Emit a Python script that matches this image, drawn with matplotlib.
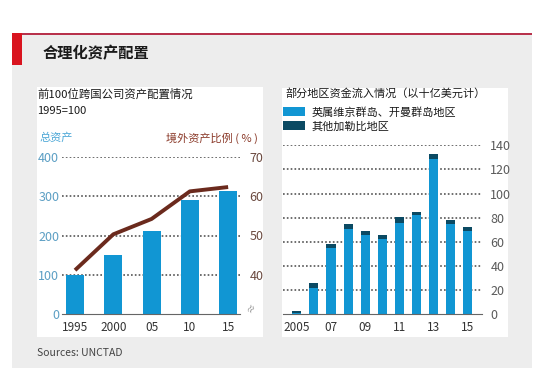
import numpy as np
import matplotlib.pyplot as plt
from matplotlib.patches import Rectangle

plt.rcParams['font.family'] = ['Noto Sans CJK SC', 'DejaVu Sans']

# left chart: top 100 multinationals, 1995 = 100
years_left = ['1995', '2000', '05', '10', '15']
total_assets = [100, 150, 211, 290, 313]
foreign_share = [41.2, 50.3, 54.2, 61.2, 62.3]

# right chart: inflows, $bn
years_right = ['2005', '', '07', '', '09', '', '11', '', '13', '', '15']
bvi_cayman = [1, 22, 55, 70.5, 66, 62, 76, 82, 129, 74.5, 69]
other_caribbean = [2, 4, 3, 4.5, 3, 3.5, 4.5, 3, 3.5, 4, 3]

W, H = 549, 383
BLUE = '#1196d3'
DARK = '#0b4a63'
BROWN = '#6b2a1d'
GREY = '#5a5a5a'


def fx(px):
    return px / W


def fy(py):
    return 1 - py / H


fig = plt.figure(figsize=(W / 100, H / 100), dpi=100)
fig.patch.set_facecolor('white')

# panel backgrounds, drawn in a full-figure axes at the bottom
bg = fig.add_axes([0, 0, 1, 1], zorder=-10)
bg.set_xlim(0, W)
bg.set_ylim(H, 0)
bg.axis('off')
for x0, y0, x1, y1, c in [(12, 33, 532, 368, '#ededed'),
                          (12, 32.5, 532, 34.5, '#b8324c'),
                          (12, 33, 22, 65, '#d9141f'),
                          (37, 87, 263, 337, 'white'),
                          (282, 88, 508, 337, 'white')]:
    bg.add_patch(Rectangle((x0, y0), x1 - x0, y1 - y0, color=c, lw=0))

fig.text(fx(43), fy(53), '合理化资产配置', fontsize=11, fontweight='bold',
         va='center', ha='left', color='#1a1a1a')
fig.text(fx(37), fy(353), 'Sources: UNCTAD', fontsize=7.5, va='center', color='#444444')

# ---- left chart ----
ax1 = fig.add_axes([fx(62), fy(314.3), fx(178), 157.6 / H])
ax1.set_facecolor('none')
x1 = np.arange(len(years_left))
ax1.bar(x1, total_assets, width=0.47, color=BLUE, zorder=2)
ax1.set_xlim(-0.34, 4.31)
ax1.set_ylim(0, 400)
ax1.set_yticks([0, 100, 200, 300, 400])
ax1.set_xticks(x1)
ax1.set_xticklabels(years_left)
for v in [100, 200, 300, 400]:
    ax1.axhline(v, color='#555555', lw=1.2, ls=(0, (1, 1.3)), zorder=1)
for s in ['top', 'left', 'right']:
    ax1.spines[s].set_visible(False)
ax1.spines['bottom'].set_color('#666666')
ax1.spines['bottom'].set_zorder(3)
ax1.tick_params(axis='y', length=0, pad=2, labelsize=9, labelcolor='#5c9fc4')
ax1.tick_params(axis='x', length=0, pad=5, labelsize=8.5, labelcolor='#333333')

ax1b = ax1.twinx()
ax1b.plot(x1, foreign_share, color=BROWN, lw=2.8, solid_capstyle='butt', zorder=3)
ax1b.set_ylim(30, 70)
ax1b.set_yticks([40, 50, 60, 70])
for s in ['top', 'left', 'right', 'bottom']:
    ax1b.spines[s].set_visible(False)
ax1b.tick_params(axis='y', length=0, pad=7, labelsize=9, labelcolor='#6b4a40')
ax1b.text(1.065, 0.04, '≈', transform=ax1b.transAxes, rotation=60, fontsize=7,
          color='#888888', ha='center', va='center')

fig.text(fx(37), fy(94), '前100位跨国公司资产配置情况', fontsize=8.2, va='center', color='#1a1a1a')
fig.text(fx(37), fy(111), '1995=100', fontsize=8, va='center', color='#1a1a1a')
fig.text(fx(39), fy(138), '总资产', fontsize=8, va='center', color='#4aa6d6')
fig.text(fx(258), fy(138), '境外资产比例 ( % )', fontsize=8, va='center', ha='right', color='#8b3a2a')

# ---- right chart ----
ax2 = fig.add_axes([fx(282.7), fy(314.3), fx(199.3), 169 / H])
ax2.set_facecolor('none')
x2 = np.arange(len(years_right))
b1 = ax2.bar(x2, bvi_cayman, width=0.53, color=BLUE, zorder=2,
             label='英属维京群岛、开曼群岛地区')
b2 = ax2.bar(x2, other_caribbean, width=0.53, bottom=bvi_cayman, color=DARK, zorder=2,
             label='其他加勒比地区')
ax2.set_xlim(-0.82, 10.82)
ax2.set_ylim(0, 140)
ax2.set_yticks(np.arange(0, 141, 20))
ax2.set_xticks(x2)
ax2.set_xticklabels(years_right)
for v in range(20, 141, 20):
    ax2.axhline(v, color='#555555', lw=1.2, ls=(0, (1, 1.3)), zorder=1)
ax2.yaxis.tick_right()
for s in ['top', 'left', 'right']:
    ax2.spines[s].set_visible(False)
ax2.spines['bottom'].set_color('#666666')
ax2.spines['bottom'].set_zorder(3)
ax2.tick_params(axis='y', length=0, pad=6, labelsize=9, labelcolor=GREY)
ax2.tick_params(axis='x', length=0, pad=5, labelsize=8.5, labelcolor='#333333')

fig.text(fx(285), fy(93.5), '部分地区资金流入情况（以十亿美元计）', fontsize=8, va='center', color='#1a1a1a')
ax2.legend(handles=[b1, b2], loc='upper left', bbox_to_anchor=(fx(283), fy(107)),
           bbox_transform=fig.transFigure, frameon=False, fontsize=8,
           handlelength=2.0, handleheight=0.9, handletextpad=0.6,
           labelspacing=0.3, borderpad=0, borderaxespad=0, labelcolor='#1a1a1a')

fig.savefig('out.png', dpi=100)
